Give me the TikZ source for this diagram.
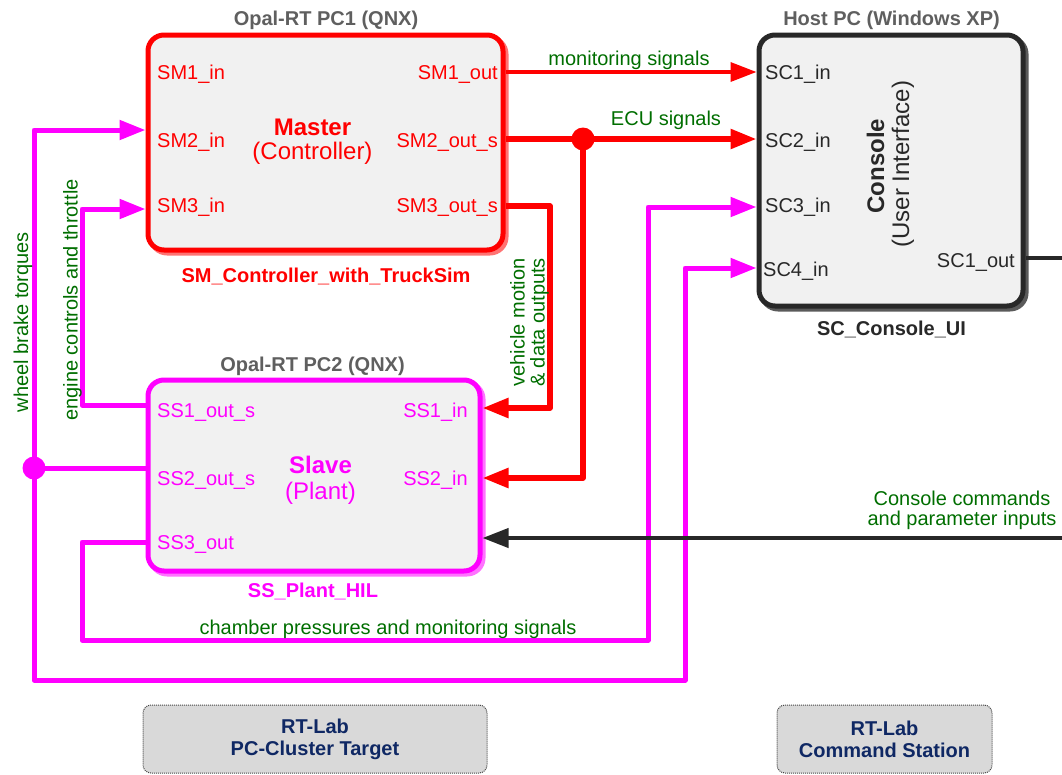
\documentclass[tikz,border=0pt]{standalone}
\usepackage{fontspec}
\setmainfont{Liberation Sans}
\usetikzlibrary{arrows.meta}
\definecolor{cred}{RGB}{255,0,0}
\definecolor{cmag}{RGB}{255,0,255}
\definecolor{cgreen}{RGB}{0,110,0}
\definecolor{cgrey}{RGB}{95,95,95}
\definecolor{cdark}{RGB}{40,40,40}
\definecolor{cshadowd}{RGB}{90,90,90}
\definecolor{cfill}{RGB}{241,241,241}
\definecolor{cnavy}{RGB}{15,40,100}
\definecolor{cboxfill}{RGB}{217,217,217}
\definecolor{cboxline}{RGB}{70,70,70}
\newcommand\fsP{\fontsize{20}{22}\selectfont}
\newcommand\fsB{\fontsize{24}{26}\selectfont}
\begin{document}
\begin{tikzpicture}[x=1pt,y=-1pt,
  blk/.style={draw, line width=5pt, fill=cfill, rounded corners=16pt, inner sep=0pt, outer sep=0pt},
  shad/.style={preaction={draw=#1, line width=5pt, transform canvas={shift={(3pt,-3pt)}}}},
  port/.style={font=\fsP, inner sep=0pt},
  ttl/.style={font=\fsP\bfseries, text=cgrey, inner sep=0pt, anchor=base},
  bname/.style={font=\fsP\bfseries, inner sep=0pt, anchor=base},
  ctr/.style={font=\fsB, inner sep=0pt, anchor=base},
  lbl/.style={font=\fsP, text=cgreen, inner sep=0pt, anchor=base},
  tip/.style={-{Triangle[length=26pt,width=19pt]}},
  redthin/.style={draw=cred, line width=3.5pt},
  redthick/.style={draw=cred, line width=5.5pt, line join=round},
  magl/.style={draw=cmag, line width=5pt, line join=round},
  blkl/.style={draw=cdark, line width=4pt},
  bbox/.style={draw=cboxline, densely dotted, line width=1pt, fill=cboxfill, rounded corners=8pt,
    align=center, text=cnavy, font=\fontsize{20}{22}\selectfont\bfseries, inner sep=0pt}
]
\useasboundingbox (0,0) rectangle (1062,774);

% ---------- blocks ----------
\node[blk, draw=cred, shad={cred!55}, minimum width=355pt, minimum height=215pt] (master) at (325.5,142.5) {};
\node[blk, draw=cdark, shad={cshadowd}, minimum width=264pt, minimum height=271pt] (console) at (891,170.5) {};
\node[blk, draw=cmag, shad={cmag!55}, minimum width=332pt, minimum height=191pt] (slave) at (314,475.5) {};

% titles and names
\node[ttl] (t1) at (326,25.5) {Opal-RT PC1 (QNX)};
\node[ttl] (t2) at (891.5,25) {Host PC (Windows XP)};
\node[ttl] (t3) at (312.5,371) {Opal-RT PC2 (QNX)};
\node[bname, text=cred] (n1) at (326,282) {SM\_Controller\_with\_TruckSim};
\node[bname, text=cdark] (n2) at (891.5,335.5) {SC\_Console\_UI};
\node[bname, text=cmag] (n3) at (313,597) {SS\_Plant\_HIL};

% centre texts
\node[ctr, text=cred, font=\fsB\bfseries] (mc1) at (312.5,135) {Master};
\node[ctr, text=cred] (mc2) at (312.5,159) {(Controller)};
\node[ctr, text=cmag, font=\fsB\bfseries] (sc1) at (320.5,473) {Slave};
\node[ctr, text=cmag] (sc2) at (320.5,499) {(Plant)};
\node[ctr, text=cdark, font=\fsB\bfseries, rotate=90] (cc1) at (884,166) {Console};
\node[ctr, text=cdark, rotate=90] (cc2) at (909,164) {(User Interface)};

% ports of master
\node[port, text=cred, anchor=base west] (sm1in) at (157,79) {SM1\_in};
\node[port, text=cred, anchor=base west] (sm2in) at (157,147) {SM2\_in};
\node[port, text=cred, anchor=base west] (sm3in) at (157,212) {SM3\_in};
\node[port, text=cred, anchor=base east] (sm1out) at (498,79) {SM1\_out};
\node[port, text=cred, anchor=base east] (sm2out) at (498,147) {SM2\_out\_s};
\node[port, text=cred, anchor=base east] (sm3out) at (498,212) {SM3\_out\_s};
% ports of console
\node[port, text=cdark, anchor=base west] (sc1in) at (765,79) {SC1\_in};
\node[port, text=cdark, anchor=base west] (sc2in) at (765,147) {SC2\_in};
\node[port, text=cdark, anchor=base west] (sc3in) at (765,212) {SC3\_in};
\node[port, text=cdark, anchor=base west] (sc4in) at (763,276) {SC4\_in};
\node[port, text=cdark, anchor=base east] (sc1out) at (1015,267) {SC1\_out};
% ports of slave
\node[port, text=cmag, anchor=base west] (ss1out) at (157,417) {SS1\_out\_s};
\node[port, text=cmag, anchor=base west] (ss2out) at (157,485) {SS2\_out\_s};
\node[port, text=cmag, anchor=base west] (ss3out) at (157,549) {SS3\_out};
\node[port, text=cmag, anchor=base east] (ss1in) at (468,417) {SS1\_in};
\node[port, text=cmag, anchor=base east] (ss2in) at (468,485) {SS2\_in};

% ---------- connection points ----------
\coordinate (p-sm1out) at (505.5,72);
\coordinate (p-sm2out) at (505.5,139);
\coordinate (p-sm3out) at (505.5,206);
\coordinate (p-sm2in) at (145.5,130);
\coordinate (p-sm3in) at (145.5,209);
\coordinate (p-sc1in) at (756.5,72);
\coordinate (p-sc2in) at (756.5,139);
\coordinate (p-sc3in) at (756.5,207);
\coordinate (p-sc4in) at (756.5,268);
\coordinate (p-sc1out) at (1025.5,258);
\coordinate (p-edge1) at (1062,258);
\coordinate (p-ss1out) at (145.5,405);
\coordinate (p-ss2out) at (145.5,468);
\coordinate (p-ss3out) at (145.5,542);
\coordinate (p-ss1in) at (482.5,408);
\coordinate (p-ss2in) at (482.5,478);
\coordinate (p-ss3in) at (482.5,538);
\coordinate (p-edge2) at (1062,538);

% junction dots
\node[circle, fill=cred, minimum size=23pt, inner sep=0pt] (dotR) at (583,139) {};
\node[circle, fill=cmag, minimum size=23pt, inner sep=0pt] (dotM) at (34,468) {};

% ---------- connectors ----------
\draw[redthin, tip] (p-sm1out) -- (p-sc1in);
\draw[redthick, tip] (p-sm2out) -- (p-sc2in);
\draw[redthick, tip] (dotR.center) |- (p-ss2in);
\draw[redthick, tip] (p-sm3out) -- (550,206) -- (550,408) -- (p-ss1in);

\draw[magl, tip] (p-ss2out) -- (dotM.center) |- (p-sm2in);
\draw[magl, tip] (dotM.center) -- (34,680) -| (685,268) -- (p-sc4in);
\draw[magl, tip] (p-ss1out) -- (82,405) |- (p-sm3in);
\draw[magl, tip] (p-ss3out) -- (82,542) |- (648,640) -- (648,207) -- (p-sc3in);

\draw[blkl] (p-sc1out) -- (p-edge1);
\draw[blkl, -{Triangle[length=26pt,width=19pt]}] (p-edge2) -- (p-ss3in);

% ---------- labels ----------
\node[lbl] (l1) at (629,65) {monitoring signals};
\node[lbl] (l2) at (666,125) {ECU signals};
\node[lbl, rotate=90] (l3a) at (524.5,322.5) {vehicle motion};
\node[lbl, rotate=90] (l3b) at (544.5,322.5) {\&~data outputs};
\node[lbl, rotate=90] (l4) at (77.5,300) {engine controls and throttle};
\node[lbl, rotate=90] (l5) at (28,322) {wheel brake torques};
\node[lbl] (l6) at (388,634) {chamber pressures and monitoring signals};
\node[lbl] (l7a) at (962,505) {Console commands};
\node[lbl] (l7b) at (962,525) {and parameter inputs};

% ---------- bottom boxes ----------
\node[bbox, minimum width=344pt, minimum height=68pt] (rt1) at (315,739) {RT-Lab\\PC-Cluster Target};
\node[bbox, minimum width=215pt, minimum height=68pt] (rt2) at (884.5,739) {RT-Lab\\Command Station};
\end{tikzpicture}
\end{document}
